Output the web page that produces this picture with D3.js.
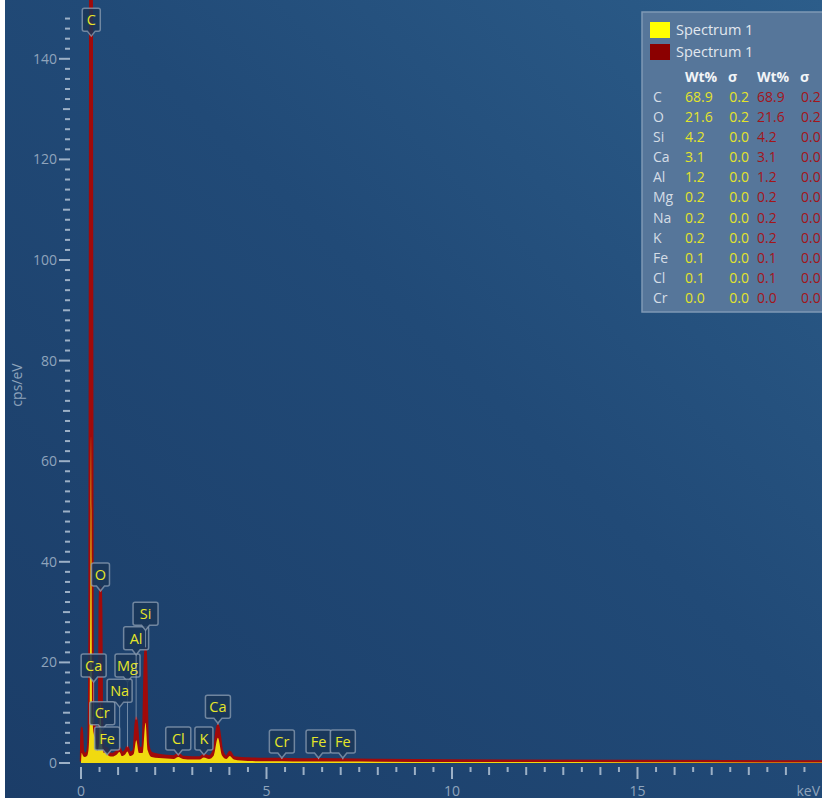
<!DOCTYPE html>
<html><head><meta charset="utf-8">
<script src="https://cdn.jsdelivr.net/npm/d3@7"></script>
<style>
html,body{margin:0;padding:0;background:#fff;}
svg{display:block;font-family:"Open Sans","Noto Sans",sans-serif;}
</style></head>
<body><svg id="c" width="822" height="801"></svg>
<script>
// ---- data ----
const energyRed = [0,0.02,0.05,0.10,0.16,0.20,0.23,0.25,0.27,0.29,0.31,0.34,0.38,0.44,0.475,0.49,0.505,0.525,0.545,0.56,0.58,0.62,0.70,0.75,0.85,0.95,1.04,1.10,1.20,1.25,1.32,1.42,1.49,1.56,1.66,1.74,1.80,1.90,2.1,2.3,2.5,2.62,2.75,3.0,3.2,3.31,3.45,3.58,3.69,3.80,3.92,4.01,4.12,4.5,5.0,5.41,6.0,6.40,7.0,8.0,10,15,20];
const countsRed = [0.3,7,2.5,1.8,2,4,25,150,165,150,25,8,7,4,6,12,31,35,30,12,6,3,3,2,1.8,2.2,3,2,2.5,3.2,2,2.5,9,3,3,23,4,2,1.6,1.4,1.3,1.8,1.2,1.1,1.1,1.6,1.3,2.5,7.6,2.5,1.2,2.2,1.1,0.9,0.8,0.8,0.7,0.75,0.7,0.6,0.5,0.4,0.3];
const energyYellow = [0,0.02,0.05,0.10,0.16,0.20,0.23,0.255,0.27,0.285,0.31,0.34,0.38,0.44,0.48,0.50,0.525,0.55,0.58,0.62,0.70,0.75,0.85,0.95,1.04,1.10,1.20,1.25,1.32,1.42,1.49,1.56,1.66,1.74,1.80,1.90,2.1,2.3,2.5,2.62,2.75,3.0,3.2,3.31,3.45,3.58,3.69,3.80,3.92,4.01,4.12,4.5,5.0,5.41,6.0,6.40,7.0,8.0,10,15,20];
const countsYellow = [0.2,2,1.5,1.2,1.4,2.5,8,40,65,40,9,6,5,2.5,3.5,8,12,7,3,2,2.2,1.4,1.3,1.6,2.2,1.4,1.8,2.3,1.4,1.8,4.5,2,2,8,2.5,1.2,1,0.9,0.8,1.2,0.8,0.7,0.7,1.1,0.8,1.5,5,1.5,0.8,1.4,0.7,0.4,0.35,0.35,0.3,0.3,0.3,0.25,0.2,0.15,0.1];

const peakElements = ["C","O","Ca","Mg","Na","Al","Si","Cr","Fe","Cl","K","Ca","Cr","Fe","Fe"];
const peakEnergies = [0.277,0.525,0.341,1.254,1.041,1.486,1.740,0.573,0.705,2.622,3.313,3.691,5.414,6.403,7.057];
const labelLevel = [145.5,35.2,17.1,17.1,12.1,22.5,27.4,7.6,2.6,2.6,2.6,8.9,2.0,2.0,2.0];

const seriesNames = ["Spectrum 1","Spectrum 1"];
const seriesColors = ["#ffff00","#8b0000"];
const tableElements = ["C","O","Si","Ca","Al","Mg","Na","K","Fe","Cl","Cr"];
const wtA = ["68.9","21.6","4.2","3.1","1.2","0.2","0.2","0.2","0.1","0.1","0.0"];
const sigA = ["0.2","0.2","0.0","0.0","0.0","0.0","0.0","0.0","0.0","0.0","0.0"];
const wtB = ["68.9","21.6","4.2","3.1","1.2","0.2","0.2","0.2","0.1","0.1","0.0"];
const sigB = ["0.2","0.2","0.0","0.0","0.0","0.0","0.0","0.0","0.0","0.0","0.0"];

const xMajor = [0,5,10,15];
const yMajor = [0,20,40,60,80,100,120,140];

// ---- drawing ----
const svg = d3.select("#c");
const W = 822, H = 801;
const defs = svg.append("defs");
const g = defs.append("linearGradient").attr("id","bg").attr("x1","0%").attr("y1","100%").attr("x2","100%").attr("y2","0%");
g.append("stop").attr("offset","0%").attr("stop-color","#1b3d68");
g.append("stop").attr("offset","55%").attr("stop-color","#214a77");
g.append("stop").attr("offset","100%").attr("stop-color","#2c5d8a");
defs.append("clipPath").attr("id","clip").append("rect").attr("x",5).attr("y",0).attr("width",W-5).attr("height",798);

svg.append("rect").attr("x",5).attr("y",0).attr("width",W-5).attr("height",798).attr("fill","url(#bg)");

const x = d3.scaleLinear().domain([0,20]).range([81,823]);
const y = d3.scaleLinear().domain([0,150]).range([763,8.5]);

const plot = svg.append("g").attr("clip-path","url(#clip)");

// y axis ticks
const tickCol = "#9cb0c6";
const yMinor = d3.range(0,150,2);
plot.selectAll(".ytk").data(yMinor).enter().append("line")
  .attr("x1",d=> d%20===0 ? 59 : (d%10===0 ? 63 : 65)).attr("x2",70)
  .attr("y1",d=>y(d)).attr("y2",d=>y(d))
  .attr("stroke",tickCol).attr("stroke-width",2);
plot.selectAll(".ylb").data(yMajor).enter().append("text")
  .attr("x",57).attr("y",d=>y(d)).attr("dy","0.35em").attr("text-anchor","end")
  .attr("fill","#8fa4bc").attr("font-size",14).text(d=>d);
plot.append("text").attr("transform","translate(22,385) rotate(-90)").attr("text-anchor","middle")
  .attr("fill","#8fa4bc").attr("font-size",14).text("cps/eV");

// x axis ticks
const xMinor = d3.range(0,20.01,0.5);
plot.selectAll(".xtk").data(xMinor).enter().append("line")
  .attr("x1",d=>x(d)).attr("x2",d=>x(d))
  .attr("y1",767)
  .attr("y2",d=> d%5===0 ? 779 : (d%1===0 ? 775 : 772))
  .attr("stroke",tickCol).attr("stroke-width",2);
plot.selectAll(".xlb").data(xMajor).enter().append("text")
  .attr("x",d=>x(d)).attr("y",796).attr("text-anchor","middle")
  .attr("fill","#8fa4bc").attr("font-size",14).text(d=>d);
svg.append("text").attr("x",820).attr("y",796).attr("text-anchor","end").attr("fill","#8fa4bc").attr("font-size",14).text("keV");

// spectra
const redData = energyRed.map((e,i)=>[e,countsRed[i]]);
const yelData = energyYellow.map((e,i)=>[e,countsYellow[i]]);
const area = d3.area().x(d=>x(d[0])).y0(y(0)).y1(d=>y(d[1])).curve(d3.curveMonotoneX);
const line = d3.line().x(d=>x(d[0])).y(d=>y(d[1])).curve(d3.curveMonotoneX);
plot.append("path").datum(redData).attr("d",area).attr("fill","#a10a0a");
plot.append("path").datum(redData).attr("d",line).attr("fill","none").attr("stroke","#a10a0a").attr("stroke-width",2.4);
plot.append("path").datum(yelData).attr("d",area).attr("fill","#ffff10").attr("fill-opacity",0.85);

// peak labels
function valAt(e){
  let i = d3.bisector(d=>d[0]).left(redData,e);
  if(i<=0) return redData[0][1];
  if(i>=redData.length) return redData[redData.length-1][1];
  const a=redData[i-1], b=redData[i];
  return a[1]+(b[1]-a[1])*(e-a[0])/(b[0]-a[0]);
}
const labs = plot.append("g");
peakElements.forEach((el,i)=>{
  const cx = x(peakEnergies[i]);
  const bottom = y(labelLevel[i]);
  const w = el.length===1 ? 18 : 25, h = 23;
  const tipY = bottom+5;
  const peakY = y(Math.min(valAt(peakEnergies[i]),150));
  if(peakY>tipY+1){
    labs.append("line").attr("x1",cx).attr("x2",cx).attr("y1",tipY).attr("y2",peakY)
      .attr("stroke","#b8c6d6").attr("stroke-opacity",0.55).attr("stroke-width",1);
  }
  const l=cx-w/2, r=cx+w/2, t=bottom-h;
  const p = `M${l+2},${t} H${r-2} Q${r},${t} ${r},${t+2} V${bottom-2} Q${r},${bottom} ${r-2},${bottom} H${cx+4} L${cx},${tipY} L${cx-4},${bottom} H${l+2} Q${l},${bottom} ${l},${bottom-2} V${t+2} Q${l},${t} ${l+2},${t} Z`;
  labs.append("path").attr("d",p).attr("fill","#1a3658").attr("fill-opacity",0.85)
    .attr("stroke","#8d9fb3").attr("stroke-opacity",0.75).attr("stroke-width",1.5);
  labs.append("text").attr("x",cx).attr("y",bottom-h/2).attr("dy","0.36em").attr("text-anchor","middle")
    .attr("fill","#e6e628").attr("font-size",14.5).text(el);
});

// legend panel
const lg = svg.append("g");
lg.append("rect").attr("x",642).attr("y",12).attr("width",200).attr("height",300)
  .attr("fill","#56769a").attr("stroke","#7f99b5").attr("stroke-width",1.5);
seriesNames.forEach((n,i)=>{
  lg.append("rect").attr("x",650).attr("y",22+i*22).attr("width",20).attr("height",16).attr("fill",seriesColors[i]);
  lg.append("text").attr("x",676).attr("y",30+i*22).attr("dy","0.35em").attr("fill","#e2e8ef").attr("font-size",14.5).text(n);
});
const hdr = [["Wt%",685],["σ",728],["Wt%",757],["σ",800]];
hdr.forEach(h=>lg.append("text").attr("x",h[1]).attr("y",77).attr("dy","0.35em").attr("fill","#f2f4f7")
  .attr("font-size",14).attr("font-weight","bold").text(h[0]));
tableElements.forEach((el,i)=>{
  const yy = 97+i*20.1;
  lg.append("text").attr("x",653).attr("y",yy).attr("dy","0.35em").attr("fill","#d5dde6").attr("font-size",14).text(el);
  lg.append("text").attr("x",685).attr("y",yy).attr("dy","0.35em").attr("fill","#e4e42a").attr("font-size",14).text(wtA[i]);
  lg.append("text").attr("x",749).attr("y",yy).attr("dy","0.35em").attr("text-anchor","end").attr("fill","#e4e42a").attr("font-size",14).text(sigA[i]);
  lg.append("text").attr("x",757).attr("y",yy).attr("dy","0.35em").attr("fill","#a3151a").attr("font-size",14).text(wtB[i]);
  lg.append("text").attr("x",801).attr("y",yy).attr("dy","0.35em").attr("fill","#a3151a").attr("font-size",14).text(sigB[i]);
});
</script></body></html>
